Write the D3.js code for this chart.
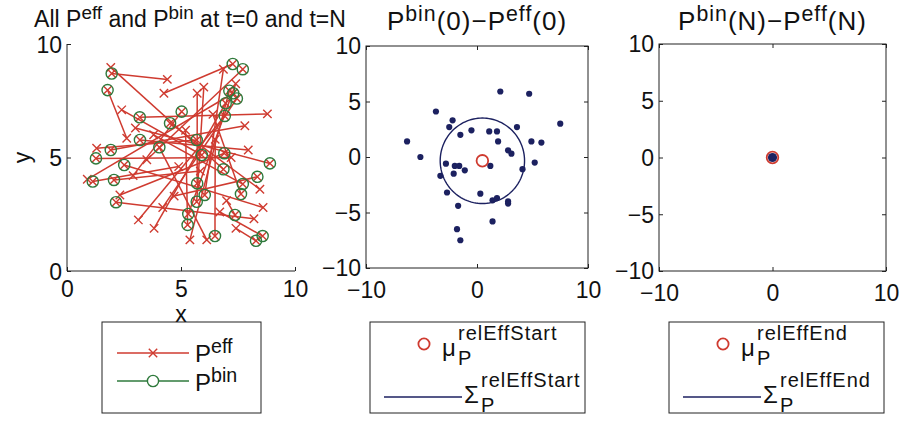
<!DOCTYPE html>
<html>
<head>
<meta charset="utf-8">
<script src="https://cdn.jsdelivr.net/npm/d3@7"></script>
<style>
  body { margin: 0; background: #fff; }
  svg { display: block; }
  text { font-family: "Liberation Sans", Arial, Helvetica, sans-serif; fill: #111; }
</style>
</head>
<body>
<svg id="fig" width="906" height="433"></svg>
<script>
// ---------- data ----------
// bin positions (P^bin, unchanged from t=0 to t=N; P^eff(N) coincides with them)
const binX = [1.96, 1.78, 7.27, 7.71, 7.29, 7.12, 6.96, 6.92, 3.19, 5.03, 4.52, 3.20, 4.05,
              5.69, 5.91, 1.92, 1.27, 2.51, 6.90, 6.86, 8.90, 1.13, 2.06, 5.71, 6.04, 5.69,
              7.71, 8.35, 7.63, 2.15, 5.32, 5.29, 7.37, 6.49, 8.29, 8.58, 7.45];
const binY = [8.70, 7.97, 9.12, 8.89, 7.83, 7.94, 7.39, 6.83, 6.77, 7.02, 6.51, 5.77, 5.45,
              5.77, 5.11, 5.33, 4.96, 4.67, 5.19, 4.48, 4.74, 3.94, 4.01, 3.86, 3.35, 3.05,
              3.83, 4.15, 3.39, 3.03, 2.51, 2.03, 2.47, 1.54, 1.33, 1.54, 7.60];
// effective positions at t=0 (same order as the bins)
const effStartX = [4.40, 2.62, 4.25, 3.50, 0.89, 5.39, 3.82, 3.13, 8.79, 2.90, 8.46, 7.95, 6.13,
                   1.30, 2.40, 7.80, 7.20, 8.60, 2.32, 1.92, 3.00, 4.90, 5.85, 5.71, 6.86, 6.00,
                   3.80, 4.70, 6.40, 8.20, 7.40, 5.20, 7.00, 6.50, 7.41, 6.70, 4.20];
const effStartY = [8.44, 5.85, 7.83, 4.90, 4.04, 1.37, 1.88, 2.25, 6.92, 4.20, 3.60, 5.33, 1.37,
                   5.41, 7.10, 6.40, 5.00, 2.80, 3.35, 8.97, 6.30, 4.60, 4.40, 7.83, 8.89, 8.10,
                   6.00, 3.30, 6.90, 2.30, 8.25, 6.20, 3.10, 5.80, 1.88, 2.60, 2.80];

// P^bin(0) - P^eff(0)
const diffStartX = [2.1, 4.7, 7.5, -3.7, -2.2, -2.5, -0.5, 1.1, 1.8, -1.5, 3.6, 1.9, -6.3,
                    4.9, 5.8, -5.1, 2.8, 3.1, -2.8, -2.0, -1.6, 1.2, -1.1, 5.2, 4.1, -3.3,
                    -2.1, -2.7, 0.3, 1.4, 1.8, 2.8, 2.8, -1.7, 1.4, -1.8, -1.5];
const diffStartY = [5.9, 5.7, 3.0, 4.1, 3.3, 2.7, 2.4, 2.3, 2.3, 2.0, 2.7, 1.4, 1.4,
                    1.4, 1.3, 0.0, 0.6, 0.3, -0.6, -0.8, -0.8, -0.8, -1.2, -0.5, -1.1, -1.7,
                    -1.5, -3.2, -3.3, -3.9, -3.7, -4.0, -4.2, -4.4, -5.8, -6.5, -7.5];
// P^bin(N) - P^eff(N): every difference has vanished
const diffEndX = binX.map(() => 0);
const diffEndY = binY.map(() => 0);

// covariance ellipses (semi-axes and rotation in degrees)
const sigmaStart = [3.8, 3.85, 0];
const sigmaEnd = [0, 0, 0];

// tick values
const ticksLeft = [0, 5, 10];
const ticksRel = [-10, 0, 10];
const ticksRelY = [-10, -5, 0, 5, 10];

// ---------- drawing ----------
const svg = d3.select("#fig");
const RED = "#cf3b30", GREEN = "#2f7a3c", NAVY = "#1c2160", AXIS = "#222";
const FS = 23;       // tick labels / axis labels
const FL = 24;       // legend symbols
const FLS = 20;      // legend super/subscripts

function xMarker(g, cx, cy, s, color) {
  g.append("path")
    .attr("d", `M${cx - s},${cy - s}L${cx + s},${cy + s}M${cx - s},${cy + s}L${cx + s},${cy - s}`)
    .attr("stroke", color).attr("stroke-width", 1.4).attr("fill", "none");
}

function styleAxis(g) {
  g.select(".domain").remove();
  g.selectAll(".tick line").attr("stroke", AXIS).attr("stroke-width", 1);
  g.selectAll(".tick text").style("font-size", FS + "px").attr("fill", "#111")
    .style("font-family", '"Liberation Sans", Arial, sans-serif');
}

// text with superscripts: parts = [[text, isSup], ...]
function richText(sel, x, y, parts, size, anchor, spacing) {
  const t = sel.append("text").attr("x", x).attr("y", y)
    .attr("text-anchor", anchor || "middle").style("font-size", size + "px");
  if (spacing) t.style("letter-spacing", spacing + "px");
  let up = false;
  parts.forEach(([s, sup]) => {
    const ts = t.append("tspan").text(s);
    if (sup) {
      ts.style("font-size", (size * 0.82) + "px");
      if (!up) { ts.attr("dy", -0.36 * size); up = true; }
    } else {
      ts.style("font-size", size + "px");
      if (up) { ts.attr("dy", 0.36 * size); up = false; }
    }
  });
  return t;
}

// symbol with stacked subscript and superscript
function stackedSymbol(sel, sym, sub, sup, x, y) {
  sel.append("text").attr("x", x).attr("y", y).style("font-size", FL + "px").text(sym);
  const sx = x + (sym === "\u03bc" ? 16 : 17);
  sel.append("text").attr("x", sx).attr("y", y + 9).style("font-size", FLS + "px").text(sub);
  sel.append("text").attr("x", sx).attr("y", y - 16).style("font-size", FLS + "px")
    .style("letter-spacing", "1px").text(sup);
}

// ---- left panel: all positions ----
{
  const L = { x0: 67, x1: 295, y0: 44, y1: 271 };
  const x = d3.scaleLinear().domain([0, 10]).range([L.x0, L.x1]);
  const y = d3.scaleLinear().domain([0, 10]).range([L.y1, L.y0]);
  const g = svg.append("g");

  // axis lines (left and bottom only)
  g.append("line").attr("x1", L.x0).attr("x2", L.x0).attr("y1", L.y0).attr("y2", L.y1).attr("stroke", AXIS);
  g.append("line").attr("x1", L.x0).attr("x2", L.x1).attr("y1", L.y1).attr("y2", L.y1).attr("stroke", AXIS);
  const ax = g.append("g").attr("transform", `translate(0,${L.y1})`)
    .call(d3.axisBottom(x).tickValues(ticksLeft).tickFormat(d3.format("d")).tickSizeInner(-4).tickSizeOuter(0).tickPadding(7));
  styleAxis(ax);
  const ay = g.append("g").attr("transform", `translate(${L.x0},0)`)
    .call(d3.axisLeft(y).tickValues(ticksLeft).tickFormat(d3.format("d")).tickSizeInner(-4).tickSizeOuter(0).tickPadding(5));
  styleAxis(ay);
  ax.selectAll(".tick text").attr("dy", "0.84em");
  ay.selectAll(".tick text").attr("dy", "0.36em");

  g.append("text").attr("x", x(5)).attr("y", 322).attr("text-anchor", "middle").style("font-size", FS + "px").text("x");
  g.append("text").attr("transform", `translate(30,${y(5)}) rotate(-90)`).attr("text-anchor", "middle")
    .style("font-size", FS + "px").text("y");

  // P^eff trajectories from t=0 to t=N
  const idx = d3.range(binX.length);
  g.append("g").selectAll("line").data(idx).join("line")
    .attr("x1", i => x(effStartX[i])).attr("y1", i => y(effStartY[i]))
    .attr("x2", i => x(binX[i])).attr("y2", i => y(binY[i]))
    .attr("stroke", RED).attr("stroke-width", 1.5);
  const mk = g.append("g");
  idx.forEach(i => {
    xMarker(mk, x(effStartX[i]), y(effStartY[i]), 4.2, RED);
    xMarker(mk, x(binX[i]), y(binY[i]), 4.2, RED);
  });
  // P^bin
  g.append("g").selectAll("circle").data(idx).join("circle")
    .attr("cx", i => x(binX[i])).attr("cy", i => y(binY[i])).attr("r", 5.6)
    .attr("fill", "none").attr("stroke", GREEN).attr("stroke-width", 1.4);

  richText(svg, 190, 27, [["All P"], ["eff", 1], [" and P"], ["bin", 1], [" at t=0 and t=N"]], 23);

  // legend
  const lg = svg.append("g");
  lg.append("rect").attr("x", 102).attr("y", 322).attr("width", 159).attr("height", 91)
    .attr("fill", "#fff").attr("stroke", AXIS);
  lg.append("line").attr("x1", 117).attr("x2", 189).attr("y1", 353).attr("y2", 353).attr("stroke", RED).attr("stroke-width", 1.5);
  xMarker(lg, 153, 353, 4.2, RED);
  lg.append("line").attr("x1", 117).attr("x2", 189).attr("y1", 381).attr("y2", 381).attr("stroke", GREEN).attr("stroke-width", 1.5);
  lg.append("circle").attr("cx", 153).attr("cy", 381).attr("r", 5.6).attr("fill", "#fff").attr("stroke", GREEN).attr("stroke-width", 1.4);
  richText(lg, 195, 362, [["P"], ["eff", 1]], FL, "start");
  richText(lg, 195, 391, [["P"], ["bin", 1]], FL, "start");
}

// ---- relative-difference panels ----
function relPanel(box, dx, dy, sigma, titleParts, legendBox, tag) {
  const x = d3.scaleLinear().domain([-10, 10]).range([box.x0, box.x1]);
  const y = d3.scaleLinear().domain([-10, 10]).range([box.y1, box.y0]);
  const g = svg.append("g");

  const ax = g.append("g").attr("transform", `translate(0,${box.y1})`)
    .call(d3.axisBottom(x).tickValues(ticksRel).tickFormat(d3.format("d")).tickSizeInner(-4).tickSizeOuter(0).tickPadding(7));
  styleAxis(ax);
  ax.selectAll(".tick text").attr("dy", "1.0em");
  const ay = g.append("g").attr("transform", `translate(${box.x0},0)`)
    .call(d3.axisLeft(y).tickValues(ticksRelY).tickFormat(d3.format("d")).tickSizeInner(-4).tickSizeOuter(0).tickPadding(5));
  styleAxis(ay);
  ay.selectAll(".tick text").attr("dy", "0.34em");
  // mirrored ticks on top and right
  const at = g.append("g").attr("transform", `translate(0,${box.y0})`)
    .call(d3.axisTop(x).tickValues(ticksRel).tickSizeInner(-4).tickSizeOuter(0).tickFormat(""));
  styleAxis(at);
  const ar = g.append("g").attr("transform", `translate(${box.x1},0)`)
    .call(d3.axisRight(y).tickValues(ticksRelY).tickSizeInner(-4).tickSizeOuter(0).tickFormat(""));
  styleAxis(ar);
  g.append("rect").attr("x", box.x0).attr("y", box.y0)
    .attr("width", box.x1 - box.x0).attr("height", box.y1 - box.y0)
    .attr("fill", "none").attr("stroke", AXIS);

  const idx = d3.range(dx.length);
  g.append("g").selectAll("circle").data(idx).join("circle")
    .attr("cx", i => x(dx[i])).attr("cy", i => y(dy[i])).attr("r", 3.1).attr("fill", NAVY);

  const mx = d3.mean(dx), my = d3.mean(dy);
  g.append("circle").attr("cx", x(mx)).attr("cy", y(my)).attr("r", 5.8)
    .attr("fill", "none").attr("stroke", RED).attr("stroke-width", 1.8);
  if (tag === "end") {
    g.append("circle").attr("cx", x(mx)).attr("cy", y(my)).attr("r", 4.6).attr("fill", NAVY);
  }

  // one-sigma ellipse around the mean
  const [ra, rb, rot] = sigma;
  const th = rot * Math.PI / 180;
  const pts = d3.range(0, 2 * Math.PI + 0.01, Math.PI / 60).map(t => {
    const ex = ra * Math.cos(t), ey = rb * Math.sin(t);
    return [mx + ex * Math.cos(th) - ey * Math.sin(th), my + ex * Math.sin(th) + ey * Math.cos(th)];
  });
  g.append("path").attr("d", d3.line().x(d => x(d[0])).y(d => y(d[1]))(pts))
    .attr("fill", "none").attr("stroke", NAVY).attr("stroke-width", 1.4);

  richText(svg, (box.x0 + box.x1) / 2, 30, titleParts, 26, "middle", 1);

  // legend
  const lb = legendBox;
  const lg = svg.append("g");
  lg.append("rect").attr("x", lb.x).attr("y", lb.y).attr("width", lb.w).attr("height", lb.h)
    .attr("fill", "#fff").attr("stroke", AXIS);
  lg.append("circle").attr("cx", lb.x + 54).attr("cy", lb.y + 22).attr("r", 5.6)
    .attr("fill", "none").attr("stroke", RED).attr("stroke-width", 1.8);
  lg.append("line").attr("x1", lb.x + 14).attr("x2", lb.x + 92).attr("y1", lb.y + 75).attr("y2", lb.y + 75)
    .attr("stroke", NAVY).attr("stroke-width", 1.4);
  const sup = tag === "start" ? "relEffStart" : "relEffEnd";
  stackedSymbol(lg, "\u03bc", "P", sup, lb.x + 72, lb.y + 34);
  stackedSymbol(lg, "\u03a3", "P", sup, lb.x + 94, lb.y + 81);
}

relPanel({ x0: 366, x1: 588, y0: 46, y1: 268 }, diffStartX, diffStartY, sigmaStart,
  [["P"], ["bin", 1], ["(0)\u2212P"], ["eff", 1], ["(0)"]],
  { x: 370, y: 322, w: 215, h: 91 }, "start");

relPanel({ x0: 659, x1: 886, y0: 44, y1: 271 }, diffEndX, diffEndY, sigmaEnd,
  [["P"], ["bin", 1], ["(N)\u2212P"], ["eff", 1], ["(N)"]],
  { x: 669, y: 322, w: 215, h: 91 }, "end");
</script>
</body>
</html>
